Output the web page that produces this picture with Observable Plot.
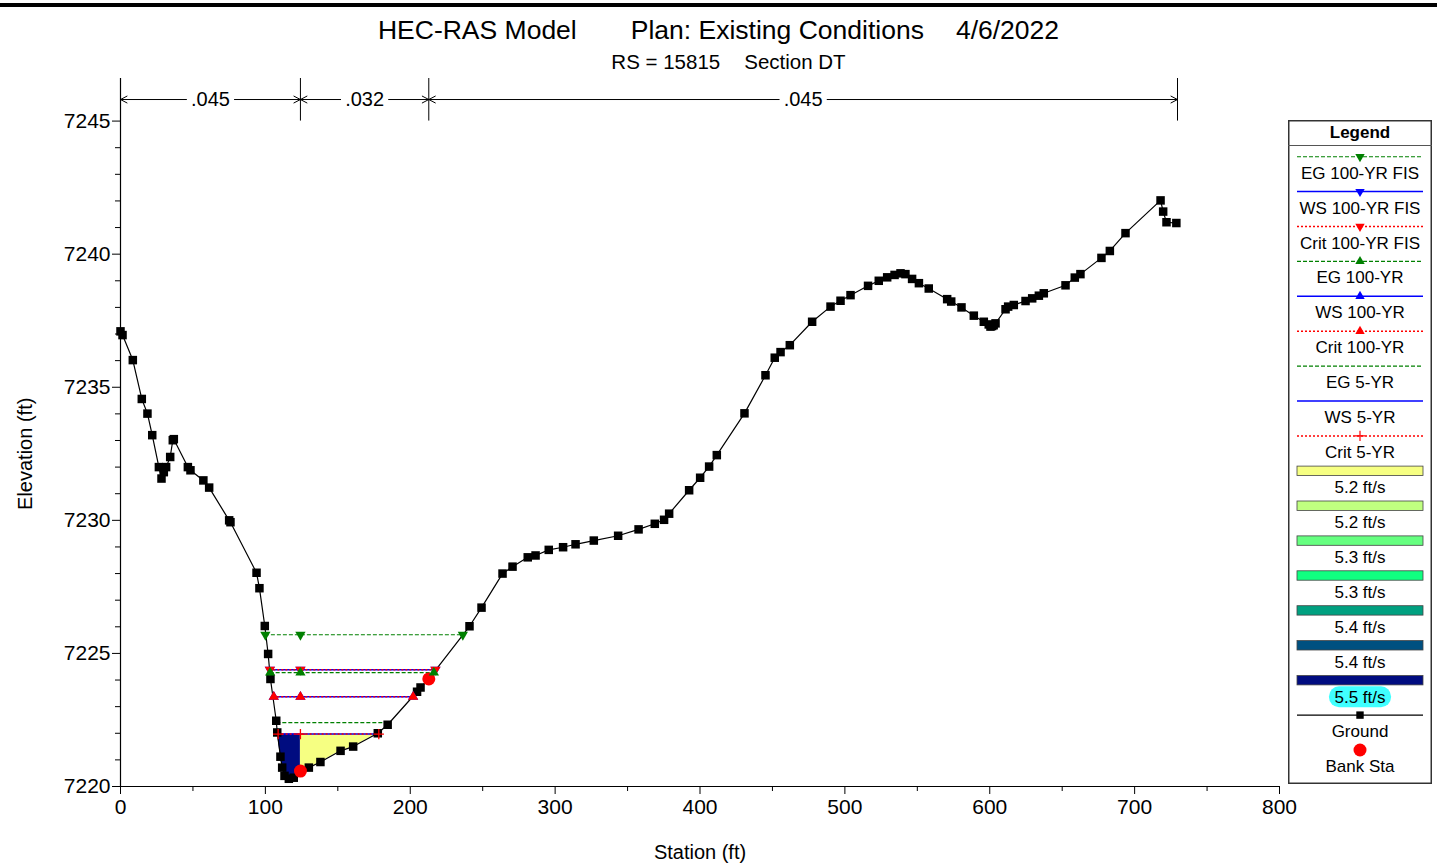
<!DOCTYPE html>
<html>
<head>
<meta charset="utf-8">
<script src="https://cdn.jsdelivr.net/npm/d3@7"></script>
<script src="https://cdn.jsdelivr.net/npm/@observablehq/plot@0.6"></script>
<style>
  body { margin: 0; background: #fff; font-family: "Liberation Sans", Arial, sans-serif; }
  #page { position: relative; width: 1437px; height: 866px; overflow: hidden; background: #fff; }
  #topbar { position: absolute; left: 0; top: 3px; width: 1437px; height: 4px; background: #000; }
  #head { position: relative; height: 70px; }
  #title { position: absolute; top: 15px; left: 0; width: 1437px; text-align: center;
           font-size: 26.5px; line-height: 30px; white-space: nowrap; color: #000; }
  #title .g1 { margin-left: 54px; }
  #title .g2 { margin-left: 32px; }
  #subtitle { position: absolute; top: 51px; left: 0; width: 1437px; text-align: center;
              padding-left: 20px; box-sizing: border-box;
              font-size: 20.5px; line-height: 22px; white-space: nowrap; color: #000; }
  #subtitle .g1 { margin-left: 24px; }
  #chart svg { display: block; }
  #legend { position: absolute; left: 1288px; top: 120px; }
</style>
</head>
<body>
<div id="page">
  <div id="topbar"></div>
  <div id="head">
    <div id="title"><span>HEC-RAS Model</span><span class="g1">Plan: Existing Conditions</span><span class="g2">4/6/2022</span></div>
    <div id="subtitle"><span>RS = 15815</span><span class="g1">Section DT</span></div>
  </div>
  <div id="chart"></div>
  <div id="legend"></div>
</div>
<script>
// Ground survey points of the cross section (station ft, elevation ft)
const station = [0, 1.4, 8.5, 14.7, 18.6, 21.9, 26.5, 28.3, 29.9, 31.5, 34.3, 36.1, 36.8, 46.5, 48.3,
  57.2, 61.2, 75.0, 75.9, 93.9, 95.9, 99.6, 101.9, 103.5, 107.5, 108.2, 110.4, 111.6, 113.2, 116.2,
  119.6, 124.2, 130.0, 138.0, 151.9, 160.6, 177.6, 184.4, 204.7, 207.1, 212.8, 240.9, 249.2, 263.7,
  270.6, 281.1, 286.5, 295.6, 305.5, 314.1, 326.7, 343.5, 357.6, 368.8, 375.2, 378.7, 392.5, 400.1,
  406.3, 411.6, 430.7, 445.2, 451.6, 455.6, 462.0, 477.4, 490.1, 497.0, 503.9, 516.0, 523.4, 529.2,
  534.3, 538.4, 541.8, 546.4, 551.1, 557.9, 570.6, 573.4, 580.5, 589.0, 595.9, 599.3, 600.5, 601.6,
  602.7, 604.0, 610.9, 612.7, 616.6, 624.7, 629.3, 633.9, 637.3, 652.3, 658.7, 662.6, 677.1, 682.9,
  693.7, 717.9, 719.7, 722.0, 728.8];
const elevation = [7237.10, 7236.96, 7236.02, 7234.56, 7234.01, 7233.20, 7232.00, 7231.57, 7231.81,
  7232.00, 7232.38, 7233.01, 7233.05, 7232.00, 7231.88, 7231.50, 7231.23, 7230.00, 7229.93, 7228.03,
  7227.45, 7226.03, 7224.98, 7224.04, 7222.47, 7222.03, 7221.12, 7220.71, 7220.40, 7220.29, 7220.33,
  7220.58, 7220.71, 7220.92, 7221.34, 7221.50, 7222.00, 7222.32, 7223.56, 7223.72, 7224.04, 7226.02,
  7226.72, 7228.00, 7228.26, 7228.61, 7228.68, 7228.89, 7228.99, 7229.10, 7229.24, 7229.42, 7229.66,
  7229.87, 7230.02, 7230.25, 7231.13, 7231.60, 7232.02, 7232.45, 7234.02, 7235.45, 7236.11, 7236.32,
  7236.58, 7237.46, 7238.03, 7238.25, 7238.46, 7238.81, 7239.00, 7239.13, 7239.22, 7239.28, 7239.25,
  7239.07, 7238.91, 7238.71, 7238.31, 7238.22, 7238.00, 7237.69, 7237.46, 7237.36, 7237.28, 7237.30,
  7237.33, 7237.40, 7237.93, 7238.03, 7238.09, 7238.24, 7238.34, 7238.44, 7238.53, 7238.83, 7239.12,
  7239.25, 7239.86, 7240.12, 7240.79, 7242.02, 7241.60, 7241.20, 7241.17];

// Bank stations
const bankStations = [124.2, 212.8];

// Manning's n regions: boundaries and values
const nBoundaries = [0, 124.2, 212.8, 729.6];
const nValues = [".045", ".032", ".045"];

// Computed water surface profiles
const profileNames = ["EG 100-YR FIS", "WS 100-YR FIS", "Crit 100-YR FIS",
                      "EG 100-YR", "WS 100-YR", "Crit 100-YR",
                      "EG 5-YR", "WS 5-YR", "Crit 5-YR"];
const profileElev  = [7225.70, 7224.39, 7224.39, 7224.28, 7223.37, 7223.37, 7222.40, 7221.97, 7221.97];
const profileLeft  = [100.0, 103.1, 103.1, 103.3, 105.8, 105.8, 107.9, 108.8, 108.8];
const profileRight = [236.3, 217.4, 217.4, 216.3, 202.0, 202.0, 184.1, 178.3, 178.3];

// Velocity distribution legend classes and the slices of the 5-YR flow area
const velocityLabels = ["5.2 ft/s", "5.2 ft/s", "5.3 ft/s", "5.3 ft/s", "5.4 ft/s", "5.4 ft/s", "5.5 ft/s"];
const sliceFrom  = [108.8, 124.2];
const sliceTo    = [124.2, 178.3];
const sliceClass = [6, 0];          // index into velocityLabels
const sliceWs    = 7221.97;         // WS 5-YR

// ---- styles ----
const velocityColors = ["#F6FF82", "#C0FF80", "#66FF80", "#10FF80", "#00A080", "#005080", "#000C80"];
const kindStyle = {
  EG:   {stroke: "#008000", dash: "4,2", width: 1.1},
  WS:   {stroke: "#0000FF", dash: null,  width: 1.5},
  Crit: {stroke: "#FF0000", dash: "2,2", width: 1.5}
};
const profileMarker = ["down", "down", "down", "up", "up", "up", null, null, "plus"];
const kindOf = name => name.split(" ")[0];

// ---- helpers ----
function groundAt(x) {
  const i = Math.max(1, Math.min(station.length - 1, d3.bisectLeft(station, x)));
  const x0 = station[i - 1], x1 = station[i], y0 = elevation[i - 1], y1 = elevation[i];
  return y0 + (y1 - y0) * (x - x0) / (x1 - x0);
}

const ground = station.map((s, i) => ({station: s, elev: elevation[i]}));
const banks = bankStations.map(s => ({station: s, elev: groundAt(s)}));

// velocity fill areas between ground and WS 5-YR
const sliceMarks = sliceFrom.map((a, k) => {
  const b = sliceTo[k];
  const xs = [a, ...station.filter(s => s > a && s < b), b];
  const pts = xs.map(s => ({station: s, lo: groundAt(s), hi: sliceWs}));
  return Plot.areaY(pts, {x: "station", y1: "lo", y2: "hi", fill: velocityColors[sliceClass[k]], curve: "linear"});
});

// water surface lines
const profiles = profileNames.map((name, i) => ({name, kind: kindOf(name), elev: profileElev[i],
  left: profileLeft[i], right: profileRight[i], marker: profileMarker[i]}));
const profileMarks = profiles.map(p => {
  const st = kindStyle[p.kind];
  return Plot.ruleY([p], {y: "elev", x1: "left", x2: "right", stroke: st.stroke,
    strokeWidth: st.width, strokeDasharray: st.dash || undefined});
});

// profile markers at the ends and at the left bank
const markerMarks = profiles.filter(p => p.marker).map(p => {
  const st = kindStyle[p.kind];
  const pts = [p.left, bankStations[0], p.right].map(s => ({station: s, elev: p.elev}));
  if (p.marker === "plus") {
    return Plot.dot(pts, {x: "station", y: "elev", symbol: "plus", r: 3.4, stroke: st.stroke, strokeWidth: 1.3, fill: "none"});
  }
  return Plot.dot(pts, {x: "station", y: "elev", symbol: "triangle", r: 3.8, fill: st.stroke, stroke: "none",
    rotate: p.marker === "down" ? 180 : 0});
});

// Manning's n brackets above the section
const nTop = 7246.6, nBase = 7245.0, nY = 7245.81;
const nArrows = [];
const nLabels = [];
nValues.forEach((v, i) => {
  const a = nBoundaries[i], b = nBoundaries[i + 1], mid = (a + b) / 2;
  nArrows.push({x1: mid, x2: a}, {x1: mid, x2: b});
  nLabels.push({x: mid, text: v});
});

const plot = Plot.plot({
  width: 1437,
  height: 796,
  marginLeft: 120,
  marginRight: 158,
  marginTop: 8,
  marginBottom: 80,
  x: {domain: [0, 800], label: null},
  y: {domain: [7220, nTop], label: null},
  style: {fontFamily: "'Liberation Sans', Arial, sans-serif", background: "white", color: "black", overflow: "visible"},
  marks: [
    ...sliceMarks,
    // axes
    Plot.ruleX([0], {y1: 7220, y2: nTop, stroke: "black", strokeWidth: 1.2}),
    Plot.ruleY([7220], {x1: 0, x2: 800, stroke: "black", strokeWidth: 1.2}),
    Plot.axisX(d3.range(0, 801, 100), {anchor: "bottom", tickSize: 8, tickPadding: 5, fontSize: 21,
      tickFormat: d => String(d), label: null}),
    Plot.axisX(d3.range(50, 800, 100), {anchor: "bottom", tickSize: 5, tickFormat: () => "", label: null}),
    Plot.axisY(d3.range(7220, 7246, 5), {anchor: "left", tickSize: 8, tickPadding: 2, fontSize: 21,
      tickFormat: d => String(d), label: null}),
    Plot.axisY(d3.range(7221, 7246).filter(d => d % 5 !== 0), {anchor: "left", tickSize: 5,
      tickFormat: () => "", label: null}),
    // ground profile
    Plot.line(ground, {x: "station", y: "elev", stroke: "black", strokeWidth: 1.2}),
    ...profileMarks,
    Plot.dot(ground, {x: "station", y: "elev", symbol: "square", r: 4.8, fill: "black"}),
    Plot.dot(banks, {x: "station", y: "elev", r: 6.5, fill: "#FF0000"}),
    ...markerMarks,
    // Manning's n regions
    Plot.ruleX(nBoundaries.slice(1), {y1: nBase, y2: nTop, stroke: "black", strokeWidth: 1}),
    Plot.arrow(nArrows, {x1: "x1", x2: "x2", y1: nY, y2: nY, insetStart: 24, headLength: 11,
      headAngle: 55, stroke: "black", strokeWidth: 1}),
    Plot.text(nLabels, {x: "x", y: nY, text: "text", fontSize: 20, fill: "black"}),
    // axis titles
    Plot.text(["Elevation (ft)"], {x: 0, y: 7232.5, dx: -95, rotate: -90, fontSize: 20, fill: "black"}),
    Plot.text(["Station (ft)"], {x: 400, y: 7220, dy: 66, fontSize: 20, fill: "black"})
  ]
});
document.getElementById("chart").appendChild(plot);

// ---- legend ----
const lineLabels = profileNames;
const LW = 144, LH = 664, step = 34.9, first = 36.7, cx = 72, x0 = 9, x1 = 135;
const leg = d3.select("#legend").append("svg")
  .attr("width", LW).attr("height", LH)
  .style("font-family", "'Liberation Sans', Arial, sans-serif");
leg.append("rect").attr("x", 0.75).attr("y", 0.75).attr("width", LW - 1.5).attr("height", LH - 1.5)
  .attr("fill", "white").attr("stroke", "#333").attr("stroke-width", 1.5);
leg.append("text").attr("x", cx).attr("y", 12.5).attr("text-anchor", "middle").attr("dominant-baseline", "central")
  .attr("font-size", 17).attr("font-weight", "bold").text("Legend");
leg.append("line").attr("x1", 0).attr("x2", LW).attr("y1", 25.5).attr("y2", 25.5)
  .attr("stroke", "#555").attr("stroke-width", 1);

const label = (y, t) => leg.append("text").attr("x", cx).attr("y", y).attr("text-anchor", "middle")
  .attr("dominant-baseline", "central").attr("font-size", 17).attr("fill", "black").text(t);
const triSize = Math.PI * 3.5 * 3.5;

lineLabels.forEach((name, i) => {
  const y = first + step * i;
  const st = kindStyle[kindOf(name)];
  leg.append("line").attr("x1", x0).attr("x2", x1).attr("y1", y).attr("y2", y)
    .attr("stroke", st.stroke).attr("stroke-width", st.width).attr("stroke-dasharray", st.dash);
  const m = profileMarker[i];
  if (m === "down" || m === "up") {
    leg.append("path").attr("d", d3.symbol(d3.symbolTriangle, triSize)())
      .attr("transform", `translate(${cx},${y}) rotate(${m === "down" ? 180 : 0})`).attr("fill", st.stroke);
  } else if (m === "plus") {
    leg.append("path").attr("d", d3.symbol(d3.symbolPlus, Math.PI * 3.4 * 3.4)())
      .attr("transform", `translate(${cx},${y})`).attr("stroke", st.stroke).attr("fill", "none").attr("stroke-width", 1.2);
  }
  label(y + 16.5, name);
});

velocityLabels.forEach((t, k) => {
  const y = first + step * (lineLabels.length + k);
  leg.append("rect").attr("x", x0).attr("y", y - 4.7).attr("width", x1 - x0).attr("height", 9.4)
    .attr("fill", velocityColors[k]).attr("stroke", "#444").attr("stroke-width", 0.8);
  if (k === velocityLabels.length - 1) {
    leg.append("rect").attr("x", 41).attr("y", y + 6).attr("width", 62).attr("height", 21).attr("rx", 10)
      .attr("fill", "#40FFFF");
  }
  label(y + 17, t);
});

{
  const y = first + step * (lineLabels.length + velocityLabels.length);
  leg.append("line").attr("x1", x0).attr("x2", x1).attr("y1", y).attr("y2", y).attr("stroke", "black").attr("stroke-width", 1.2);
  leg.append("rect").attr("x", cx - 3.7).attr("y", y - 3.7).attr("width", 7.4).attr("height", 7.4).attr("fill", "black");
  label(y + 16.5, "Ground");
  const y2 = y + step;
  leg.append("circle").attr("cx", cx).attr("cy", y2).attr("r", 6.5).attr("fill", "#FF0000");
  label(y2 + 16.5, "Bank Sta");
}
</script>
</body>
</html>
